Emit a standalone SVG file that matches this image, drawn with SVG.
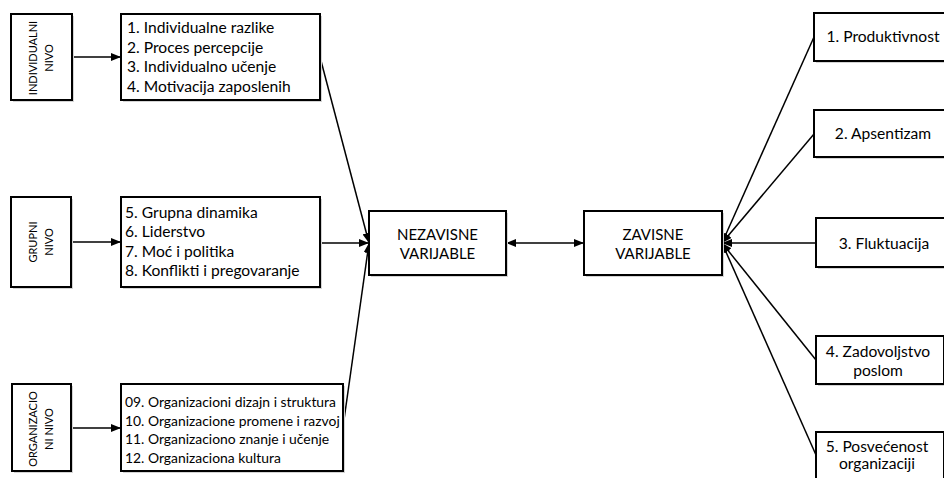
<svg xmlns="http://www.w3.org/2000/svg" width="944" height="478" viewBox="0 0 944 478">
<defs>
<marker id="ah" viewBox="0 0 10 8" refX="10" refY="4" markerWidth="10" markerHeight="8" markerUnits="userSpaceOnUse" orient="auto-start-reverse">
<path d="M0,0 L10,4 L0,8 Z" fill="#000"/>
</marker>
</defs>
<style>
.box{fill:#fff;stroke:#000;stroke-width:2}
.sh{fill:#d4d4d4;stroke:none}
.ln{fill:none;stroke:#000;stroke-width:1.5}
.t{font-family:Lato,"Open Sans",sans-serif;font-size:15.6px;fill:#000}
.s{font-family:Lato,"Open Sans",sans-serif;font-size:13.9px;fill:#000}
.v{font-family:Lato,"Open Sans",sans-serif;font-size:11px;fill:#000;text-anchor:middle}
.c{font-family:Lato,"Open Sans",sans-serif;font-size:15px;fill:#000;text-anchor:middle}
.r{font-family:Lato,"Open Sans",sans-serif;font-size:15.6px;fill:#000;text-anchor:middle}
</style>
<rect width="944" height="478" fill="#fff"/>
<g id="connectors">
<line class="ln" x1="72" y1="57" x2="121" y2="57" marker-end="url(#ah)"/>
<line class="ln" x1="71" y1="242" x2="121" y2="242" marker-end="url(#ah)"/>
<line class="ln" x1="71" y1="428" x2="121" y2="428" marker-end="url(#ah)"/>
<line class="ln" x1="320" y1="57" x2="369" y2="243" marker-end="url(#ah)"/>
<line class="ln" x1="320" y1="243" x2="369" y2="243" marker-end="url(#ah)"/>
<line class="ln" x1="343" y1="427" x2="369" y2="243" marker-end="url(#ah)"/>
<line class="ln" x1="506" y1="243" x2="584" y2="243" marker-start="url(#ah)" marker-end="url(#ah)"/>
<line class="ln" x1="814" y1="37" x2="722" y2="243" marker-end="url(#ah)"/>
<line class="ln" x1="814" y1="134" x2="722" y2="243" marker-end="url(#ah)"/>
<line class="ln" x1="816" y1="243" x2="722" y2="243" marker-end="url(#ah)"/>
<line class="ln" x1="816" y1="360" x2="722" y2="243" marker-end="url(#ah)"/>
<line class="ln" x1="816" y1="455" x2="722" y2="243" marker-end="url(#ah)"/>
</g>
<g id="individualni">
<rect class="sh" x="13" y="16" width="61" height="86"/>
<rect class="box" x="11" y="14" width="61" height="86"/>
<text class="v" transform="translate(37,58) rotate(-90)">INDIVIDUALNI</text>
<text class="v" transform="translate(53,58) rotate(-90)">NIVO</text>
</g>
<g id="grupni">
<rect class="sh" x="13" y="199" width="60" height="90"/>
<rect class="box" x="11" y="197" width="60" height="90"/>
<text class="v" transform="translate(37,242) rotate(-90)">GRUPNI</text>
<text class="v" transform="translate(53,242) rotate(-90)">NIVO</text>
</g>
<g id="organizacioni">
<rect class="sh" x="14" y="386" width="59" height="87"/>
<rect class="box" x="12" y="384" width="59" height="87"/>
<text class="v" transform="translate(37,429) rotate(-90)">ORGANIZACIO</text>
<text class="v" transform="translate(53,429) rotate(-90)">NI NIVO</text>
</g>
<g id="lista1">
<rect class="sh" x="123" y="16" width="199" height="86"/>
<rect class="box" x="121" y="14" width="199" height="86"/>
<text class="t" x="127" y="33">1. Individualne razlike</text>
<text class="t" x="127" y="52.5">2. Proces percepcije</text>
<text class="t" x="127" y="72">3. Individualno učenje</text>
<text class="t" x="127" y="91.5">4. Motivacija zaposlenih</text>
</g>
<g id="lista2">
<rect class="sh" x="123" y="199" width="199" height="90"/>
<rect class="box" x="121" y="197" width="199" height="90"/>
<text class="t" x="125" y="218">5. Grupna dinamika</text>
<text class="t" x="125" y="237.3">6. Liderstvo</text>
<text class="t" x="125" y="256.6">7. Moć i politika</text>
<text class="t" x="125" y="276">8. Konflikti i pregovaranje</text>
</g>
<g id="lista3">
<rect class="sh" x="123" y="386" width="222" height="87"/>
<rect class="box" x="121" y="384" width="222" height="87"/>
<text class="s" x="125" y="407">09. Organizacioni dizajn i struktura</text>
<text class="s" x="125" y="425.5">10. Organizacione promene i razvoj</text>
<text class="s" x="125" y="444">11. Organizaciono znanje i učenje</text>
<text class="s" x="125" y="462.5">12. Organizaciona kultura</text>
</g>
<g id="nezavisne">
<rect class="sh" x="371" y="213" width="137" height="64"/>
<rect class="box" x="369" y="211" width="137" height="64"/>
<text class="c" x="437.5" y="240">NEZAVISNE</text>
<text class="c" x="437.5" y="258.5">VARIJABLE</text>
</g>
<g id="zavisne">
<rect class="sh" x="586" y="213" width="138" height="64"/>
<rect class="box" x="584" y="211" width="138" height="64"/>
<text class="c" x="653" y="240">ZAVISNE</text>
<text class="c" x="653" y="258.5">VARIJABLE</text>
</g>
<g id="produktivnost">
<rect class="sh" x="816" y="15" width="138" height="48"/>
<rect class="box" x="814" y="13" width="138" height="48"/>
<text class="r" x="883" y="42">1. Produktivnost</text>
</g>
<g id="apsentizam">
<rect class="sh" x="816" y="112" width="138" height="47"/>
<rect class="box" x="814" y="110" width="138" height="47"/>
<text class="r" x="883" y="138.5">2. Apsentizam</text>
</g>
<g id="fluktuacija">
<rect class="sh" x="818" y="220" width="136" height="49"/>
<rect class="box" x="816" y="218" width="136" height="49"/>
<text class="r" x="884" y="248.5">3. Fluktuacija</text>
</g>
<g id="zadovoljstvo">
<rect class="sh" x="818" y="338" width="128" height="48"/>
<rect class="box" x="816" y="336" width="128" height="48"/>
<text class="r" x="878" y="356.7">4. Zadovoljstvo</text>
<text class="r" x="878" y="375.5">poslom</text>
</g>
<g id="posvecenost">
<rect class="sh" x="818" y="434" width="128" height="60"/>
<rect class="box" x="816" y="432" width="128" height="60"/>
<text class="r" x="877" y="451.7">5. Posvećenost</text>
<text class="r" x="877" y="469">organizaciji</text>
</g>
</svg>
